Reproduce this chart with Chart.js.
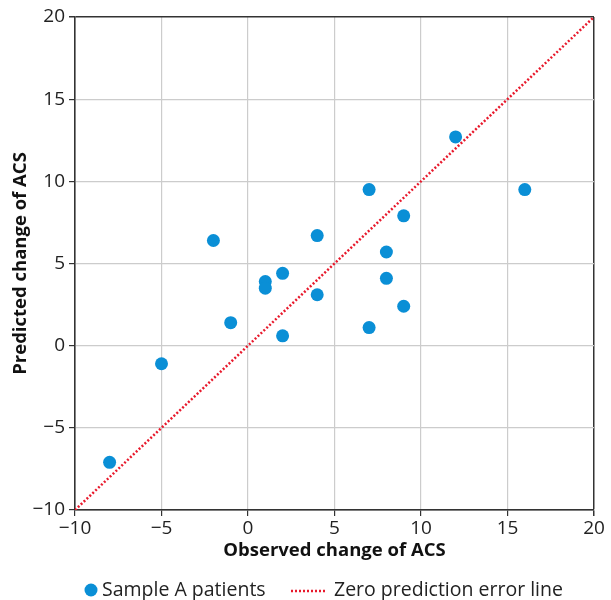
<!DOCTYPE html>
<html><head><meta charset="utf-8">
<script src="https://cdn.jsdelivr.net/npm/chart.js@4.4.1/dist/chart.umd.min.js"></script>
<style>html,body{margin:0;padding:0;background:#fff}#wrap{width:611px;height:600px}</style>
</head><body><div id="wrap"><canvas id="c" width="611" height="600"></canvas></div>
<script>
const observed  = [-8, -5, -1, -2, 1, 1, 2, 2, 4, 4, 7, 7, 8, 8, 9, 9, 12, 16];
const predicted = [-7.1, -1.1, 1.4, 6.4, 3.9, 3.5, 4.4, 0.6, 6.7, 3.1, 9.5, 1.1, 5.7, 4.1, 7.9, 2.4, 12.7, 9.5];
const lineX = [-10, 20];
const lineY = [-10, 20];
const axisTicks = [-10, -5, 0, 5, 10, 15, 20];
const seriesLabels = ['Sample A patients', 'Zero prediction error line'];
const xTitle = 'Observed change of ACS';
const yTitle = 'Predicted change of ACS';

const BLUE = '#0a8fd6', RED = '#e8192c', DARK = '#333333', GRID = '#cccccc';
const FONT = "'Open Sans', sans-serif";
const fmt = v => (v < 0 ? '\u2212' + Math.abs(v) : String(v));

const legendPlugin = {
  id: 'customLegend',
  afterDraw(chart) {
    const ctx = chart.ctx;
    ctx.save();
    ctx.font = "19.5px " + FONT;
    ctx.textBaseline = 'middle';
    const y = 590;
    ctx.fillStyle = BLUE;
    ctx.beginPath(); ctx.arc(91, y, 6.5, 0, Math.PI * 2); ctx.fill();
    ctx.fillStyle = '#222';
    ctx.textAlign = 'left';
    ctx.fillText(seriesLabels[0], 102, y);
    ctx.strokeStyle = RED; ctx.lineWidth = 2.5; ctx.setLineDash([2, 2]);
    ctx.beginPath(); ctx.moveTo(291, y + 1); ctx.lineTo(325, y + 1); ctx.stroke();
    ctx.setLineDash([]);
    ctx.fillText(seriesLabels[1], 334, y);
    ctx.restore();
  }
};

new Chart(document.getElementById('c'), {
  data: {
    datasets: [
      {
        type: 'scatter',
        label: seriesLabels[0],
        data: observed.map((x, i) => ({x, y: predicted[i]})),
        backgroundColor: BLUE, borderColor: BLUE,
        pointRadius: 6.5, pointHoverRadius: 6.5, borderWidth: 0,
        order: 1
      },
      {
        type: 'line',
        label: seriesLabels[1],
        data: lineX.map((x, i) => ({x, y: lineY[i]})),
        borderColor: RED, borderWidth: 2.5, borderDash: [2, 2],
        pointRadius: 0, fill: false, tension: 0,
        order: 0
      }
    ]
  },
  options: {
    responsive: false,
    animation: false,
    layout: { padding: { top: 17, right: 17, left: 0, bottom: 38 } },
    plugins: { legend: { display: false }, tooltip: { enabled: false } },
    scales: {
      x: {
        type: 'linear', min: -10, max: 20,
        afterBuildTicks: s => { s.ticks = axisTicks.map(v => ({value: v})); },
        afterFit: s => { s.height = 52; },
        ticks: { callback: fmt, color: '#222', font: { family: FONT, size: 19 }, padding: 1, maxRotation: 0 },
        grid: {
          color: c => (c.tick && (c.tick.value === 20 || c.tick.value === -10)) ? DARK : GRID,
          lineWidth: c => (c.tick && c.tick.value === 20) ? 1.5 : 1.2,
          tickColor: DARK, tickLength: 6
        },
        border: { color: DARK, width: 1.5 },
        title: { display: true, text: xTitle, color: '#111', font: { family: FONT, size: 18.5, weight: 'bold' }, padding: { top: 0, bottom: 0 } }
      },
      y: {
        type: 'linear', min: -10, max: 20,
        afterBuildTicks: s => { s.ticks = axisTicks.map(v => ({value: v})); },
        afterFit: s => { s.width = 75; },
        ticks: { callback: fmt, color: '#222', font: { family: FONT, size: 19 }, padding: 4 },
        grid: {
          color: c => (c.tick && (c.tick.value === 20 || c.tick.value === -10)) ? DARK : GRID,
          lineWidth: c => (c.tick && c.tick.value === 20) ? 1.5 : 1.2,
          tickColor: DARK, tickLength: 6
        },
        border: { color: DARK, width: 1.5 },
        title: { display: true, text: yTitle, color: '#111', font: { family: FONT, size: 18.5, weight: 'bold' }, padding: { top: 10, bottom: 0 } }
      }
    }
  },
  plugins: [legendPlugin]
});
</script>
</body></html>
